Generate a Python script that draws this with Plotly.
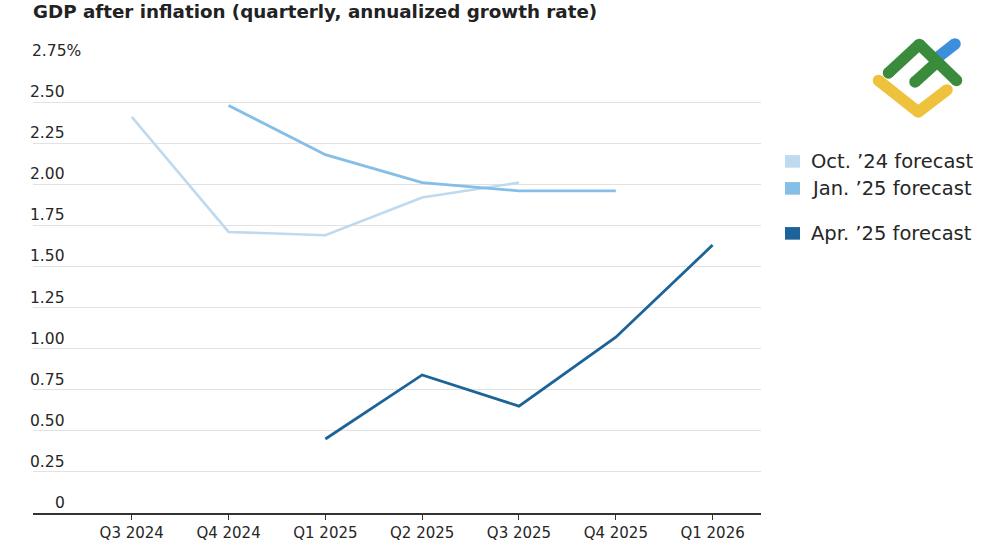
import plotly.graph_objects as go

# ---- data ----
quarters = ["Q3 2024", "Q4 2024", "Q1 2025", "Q2 2025", "Q3 2025", "Q4 2025", "Q1 2026"]
oct24_idx = [0, 1, 2, 3, 4]
oct24_vals = [2.41, 1.71, 1.69, 1.92, 2.01]
jan25_idx = [1, 2, 3, 4, 5]
jan25_vals = [2.48, 2.18, 2.01, 1.96, 1.96]
apr25_idx = [2, 3, 4, 5, 6]
apr25_vals = [0.45, 0.84, 0.65, 1.07, 1.63]
y_ticks = [0, 0.25, 0.5, 0.75, 1.0, 1.25, 1.5, 1.75, 2.0, 2.25, 2.5, 2.75]
y_tick_labels = ["0", "0.25", "0.50", "0.75", "1.00", "1.25", "1.50", "1.75", "2.00", "2.25", "2.50", "2.75%"]
series_names = ["Oct. \u201924 forecast", "Jan. \u201925 forecast", "Apr. \u201925 forecast"]
series_colors = ["#bfdaef", "#85bee6", "#1b6399"]

W, H = 1000, 545
L, R = 33, 761
T, B = 60.6, 512.7

def px_x(px):
    return (px - L) / (R - L)

def px_y(py):
    return (B - py) / (B - T)

FONT = "DejaVu Sans"
TXT = "#262626"

fig = go.Figure()
for idx, vals, name, col, w in [
    (oct24_idx, oct24_vals, series_names[0], series_colors[0], 2.6),
    (jan25_idx, jan25_vals, series_names[1], series_colors[1], 2.8),
    (apr25_idx, apr25_vals, series_names[2], series_colors[2], 2.8),
]:
    fig.add_trace(go.Scatter(
        x=idx, y=vals, mode="lines", name=name,
        line=dict(color=col, width=w), showlegend=False, hoverinfo="skip",
    ))

annotations = []
for v, lab in zip(y_ticks, y_tick_labels):
    if lab.endswith("%"):
        pos = dict(x=0, xanchor="left", xshift=-3)
    else:
        pos = dict(x=px_x(67), xanchor="right")
    annotations.append(dict(
        xref="paper", y=v, yref="y", text=lab, showarrow=False,
        yanchor="bottom", yshift=-1,
        font=dict(family=FONT, size=15.5, color=TXT), **pos,
    ))
annotations.append(dict(
    x=px_x(31), xref="paper", y=px_y(-1), yref="paper",
    text="<b>GDP after inflation (quarterly, annualized growth rate)</b>",
    showarrow=False, xanchor="left", yanchor="top",
    font=dict(family=FONT, size=18.3, color="#222222"),
))

shapes = []
legend_rows = [161, 188, 233]
for name, col, yc in zip(series_names, series_colors, legend_rows):
    shapes.append(dict(type="rect", xref="paper", yref="paper",
                       x0=px_x(785), x1=px_x(800), y0=px_y(yc - 6.3), y1=px_y(yc + 6.3),
                       fillcolor=col, line=dict(width=0)))
    annotations.append(dict(
        x=px_x(809), xref="paper", y=px_y(yc), yref="paper", text=name,
        showarrow=False, xanchor="left", yanchor="middle",
        font=dict(family=FONT, size=19.5, color=TXT),
    ))

def stroke(pts, color, w=11.5):
    for (xa, ya), (xb, yb) in zip(pts[:-1], pts[1:]):
        shapes.append(dict(type="line", xref="paper", yref="paper",
                           x0=px_x(xa), y0=px_y(ya), x1=px_x(xb), y1=px_y(yb),
                           line=dict(color=color, width=w)))
    for (xa, ya) in pts:
        r = w / 2
        shapes.append(dict(type="circle", xref="paper", yref="paper",
                           x0=px_x(xa - r), x1=px_x(xa + r), y0=px_y(ya + r), y1=px_y(ya - r),
                           fillcolor=color, line=dict(width=0)))

stroke([(878.5, 80), (918.3, 111.5), (947, 89.5)], "#efc23d")
stroke([(939, 56), (955, 43.5)], "#3c8fdb")
stroke([(888.5, 72.5), (919.3, 44), (956.5, 80)], "#3a8b3c")
stroke([(915, 81.5), (936.5, 62)], "#3a8b3c")

fig.update_layout(
    width=W, height=H,
    margin=dict(l=L, r=W - R, t=T, b=H - B, autoexpand=False),
    paper_bgcolor="white", plot_bgcolor="white",
    showlegend=False,
    annotations=annotations, shapes=shapes,
    xaxis=dict(
        range=[-1.02, 6.5], tickvals=list(range(len(quarters))), ticktext=quarters,
        showgrid=False, zeroline=False, showline=True, linecolor="#333333", linewidth=1.5,
        ticks="outside", ticklen=5, tickcolor="#333333", tickwidth=1.2,
        tickfont=dict(family=FONT, size=15, color=TXT), fixedrange=True,
        automargin=False,
    ),
    yaxis=dict(
        range=[0, 2.7501], tickvals=y_ticks, showticklabels=False,
        showgrid=True, gridcolor="#e2e2e2", gridwidth=1.2, zeroline=False,
        showline=False, fixedrange=True, automargin=False,
    ),
)

fig.write_html(
    "out.html",
    config={"displayModeBar": False},
    post_script="document.body.style.margin='0';document.body.style.overflow='hidden';",
)
